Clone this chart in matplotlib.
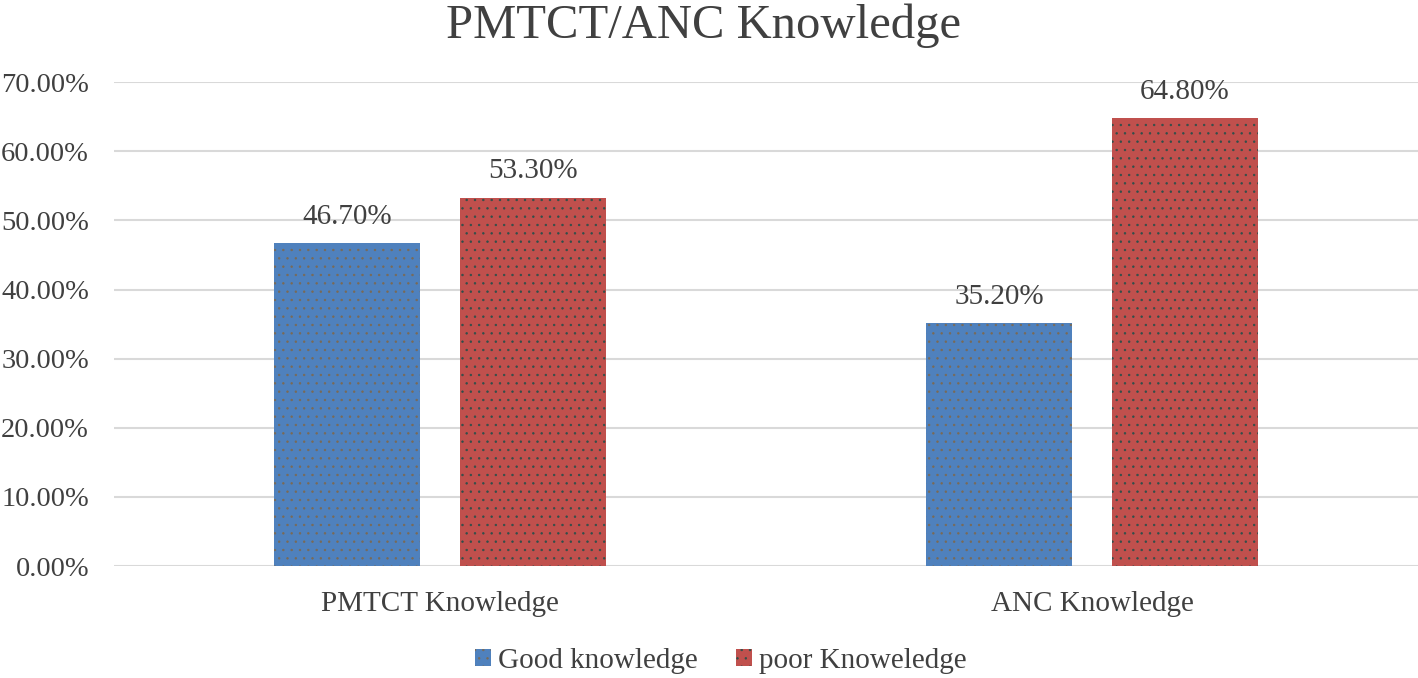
import numpy as np
import matplotlib
matplotlib.use("Agg")
import matplotlib.pyplot as plt

categories = ["PMTCT Knowledge", "ANC Knowledge"]
good = [46.7, 35.2]
poor = [53.3, 64.8]
series_names = ["Good knowledge", "poor Knoweledge"]
yticks = [0, 10, 20, 30, 40, 50, 60, 70]

plt.rcParams["font.family"] = ["Liberation Serif", "DejaVu Serif"]
plt.rcParams["hatch.linewidth"] = 0.5
text_col = "#404040"

fig = plt.figure(figsize=(14.18, 6.78), dpi=100)
ax = fig.add_axes([0.0804, 0.165, 0.9196, 0.714])

x = np.arange(len(categories))
w = 0.224
off = 0.142
b1 = ax.bar(x - off, good, w, color="#4F81BD", edgecolor="#7A6A55", linewidth=0,
            hatch="..", label=series_names[0], zorder=3)
b2 = ax.bar(x + off, poor, w, color="#C0504D", edgecolor="#2F4F4A", linewidth=0,
            hatch="..", label=series_names[1], zorder=3)

# data labels above bars
for bars, vals in [(b1, good), (b2, poor)]:
    for r, v in zip(bars, vals):
        ax.text(r.get_x() + r.get_width() / 2, v + 1.9, f"{v:.2f}%",
                ha="center", va="bottom", fontsize=21, color=text_col)

ax.set_xlim(-0.5, 1.5)
ax.set_ylim(0, 70)
ax.set_yticks(yticks)
ax.set_yticklabels([f"{t:.2f}%" for t in yticks], fontsize=20.5, color=text_col)
ax.set_xticks(x)
ax.set_xticklabels(categories, fontsize=21, color=text_col)
ax.tick_params(axis="y", length=0, pad=18)
ax.tick_params(axis="x", length=0, pad=18)
ax.yaxis.grid(True, color="#D9D9D9", linewidth=1.5, zorder=0)
for s in ax.spines.values():
    s.set_visible(False)

fig.suptitle("PMTCT/ANC Knowledge", fontsize=35, color=text_col, x=0.496, y=0.995, va="top")

leg = ax.legend(loc="center", bbox_to_anchor=(0.5 - 0.0804 / 2 / 0.9196 + 0.009, -0.196),
                ncol=2, frameon=False, fontsize=21, handlelength=0.55,
                handleheight=0.55, handletextpad=0.25, columnspacing=1.3)
for t in leg.get_texts():
    t.set_color(text_col)

fig.savefig("out.png", dpi=100)
